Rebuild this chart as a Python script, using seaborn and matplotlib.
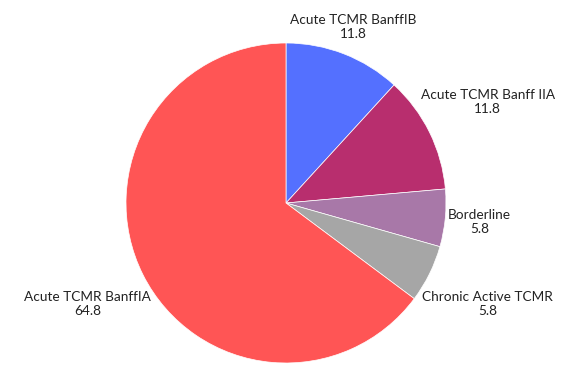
import matplotlib
matplotlib.use("Agg")
import matplotlib.pyplot as plt
import seaborn as sns

# ── Data ───────────────────────────────────────────────────────────────────────
CATEGORIES = ["Acute TCMR BanffIB", "Acute TCMR Banff IIA", "Borderline",
              "Chronic Active TCMR", "Acute TCMR BanffIA"]
VALUES     = [11.8, 11.8, 5.8, 5.8, 64.8]
COLORS     = ["#5470FF", "#B82E6E", "#A878A8", "#A6A6A6", "#FF5555"]

# label centres (pie-radius units)
LABEL_POS  = [(0.42, 1.10), (1.26, 0.63), (1.21, -0.12), (1.26, -0.63), (-1.24, -0.63)]

# ── Style ──────────────────────────────────────────────────────────────────────
sns.set_theme(style="white")
plt.rcParams["font.family"] = ["Lato", "DejaVu Sans"]

fig = plt.figure(figsize=(5.8, 3.69), dpi=100)
W, H = 580, 369
cx, cy, r = 286, 203, 160
ax = fig.add_axes([(cx - r) / W, (H - cy - r) / H, 2 * r / W, 2 * r / H])

ax.pie(VALUES, colors=COLORS, startangle=90, counterclock=False,
       wedgeprops=dict(edgecolor="white", linewidth=0.5))

for name, val, (x, y) in zip(CATEGORIES, VALUES, LABEL_POS):
    ax.text(x, y, f"{name}\n{val:.1f}", ha="center", va="center",
            fontsize=9.8, color="#222222", linespacing=1.15)

ax.set_xlim(-1, 1)
ax.set_ylim(-1, 1)
ax.set_aspect("equal")
ax.axis("off")

fig.savefig("out.png", dpi=100)
